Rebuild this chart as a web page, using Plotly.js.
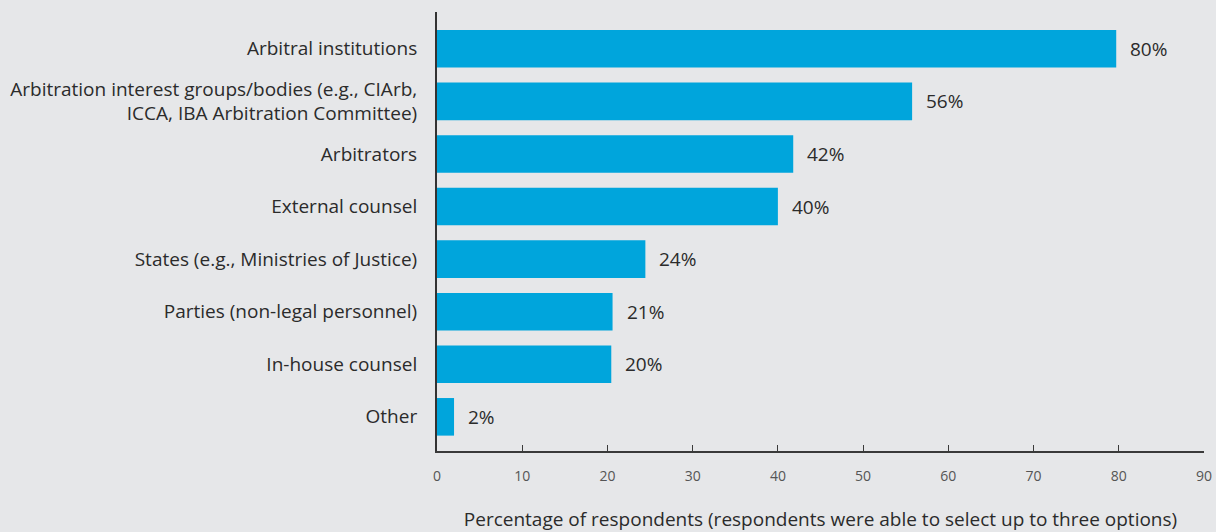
<!DOCTYPE html>
<html>
<head>
<meta charset="utf-8">
<script src="https://cdn.plot.ly/plotly-3.0.1.min.js"></script>
<style>html,body{margin:0;padding:0;background:#e6e7e9;}#chart{width:1216px;height:532px;}</style>
</head>
<body>
<div id="chart"></div>
<script>
var categories = [
  "Arbitral institutions",
  "Arbitration interest groups/bodies (e.g., CIArb,<br>ICCA, IBA Arbitration Committee)",
  "Arbitrators",
  "External counsel",
  "States (e.g., Ministries of Justice)",
  "Parties (non-legal personnel)",
  "In-house counsel",
  "Other"
];
var values = [79.7, 55.75, 41.8, 40.0, 24.45, 20.6, 20.45, 2.0];
var valueLabels = ["80%", "56%", "42%", "40%", "24%", "21%", "20%", "2%"];
var xTicks = [0, 10, 20, 30, 40, 50, 60, 70, 80, 90];
var xTitle = "Percentage of respondents (respondents were able to select up to three options)";

var FONT = "Open Sans, DejaVu Sans, sans-serif";
var TXT = "#2b2b2b";

var annotations = values.map(function (v, i) {
  return {
    x: v, y: categories[i], xref: "x", yref: "y",
    text: valueLabels[i], showarrow: false,
    xanchor: "left", yanchor: "middle", xshift: 12,
    font: {family: FONT, size: 19, color: TXT}
  };
});

var trace = {
  type: "bar",
  orientation: "h",
  x: values,
  y: categories,
  width: 0.715,
  marker: {color: "#00a5dc", line: {width: 0}},
  hoverinfo: "none"
};

var layout = {
  width: 1216, height: 532,
  margin: {l: 437, r: 12, t: 12, b: 81, pad: 0},
  paper_bgcolor: "#e6e7e9",
  plot_bgcolor: "#e6e7e9",
  showlegend: false,
  bargap: 0.285,
  font: {family: FONT, color: TXT},
  xaxis: {
    range: [0, 90],
    tickvals: xTicks,
    ticktext: xTicks.map(String),
    showgrid: false, zeroline: false,
    showline: true, linecolor: "#3a3a3a", linewidth: 1.5,
    ticks: "inside", ticklen: 6, tickwidth: 1.2, tickcolor: "#3a3a3a",
    tickfont: {family: FONT, size: 14, color: "#555555"},
    ticklabelstandoff: 12,
    title: {text: xTitle, font: {family: FONT, size: 19, color: TXT}, standoff: 28},
    automargin: false,
    fixedrange: true
  },
  yaxis: {
    type: "category",
    range: [7.65, -0.70],
    showgrid: false, zeroline: false,
    showline: true, linecolor: "#333333", linewidth: 2,
    ticks: "",
    tickfont: {family: FONT, size: 19, color: TXT},
    ticklabelstandoff: 14,
    automargin: false,
    fixedrange: true
  },
  annotations: annotations
};

Plotly.newPlot("chart", [trace], layout, {displayModeBar: false, staticPlot: true});
</script>
</body>
</html>
